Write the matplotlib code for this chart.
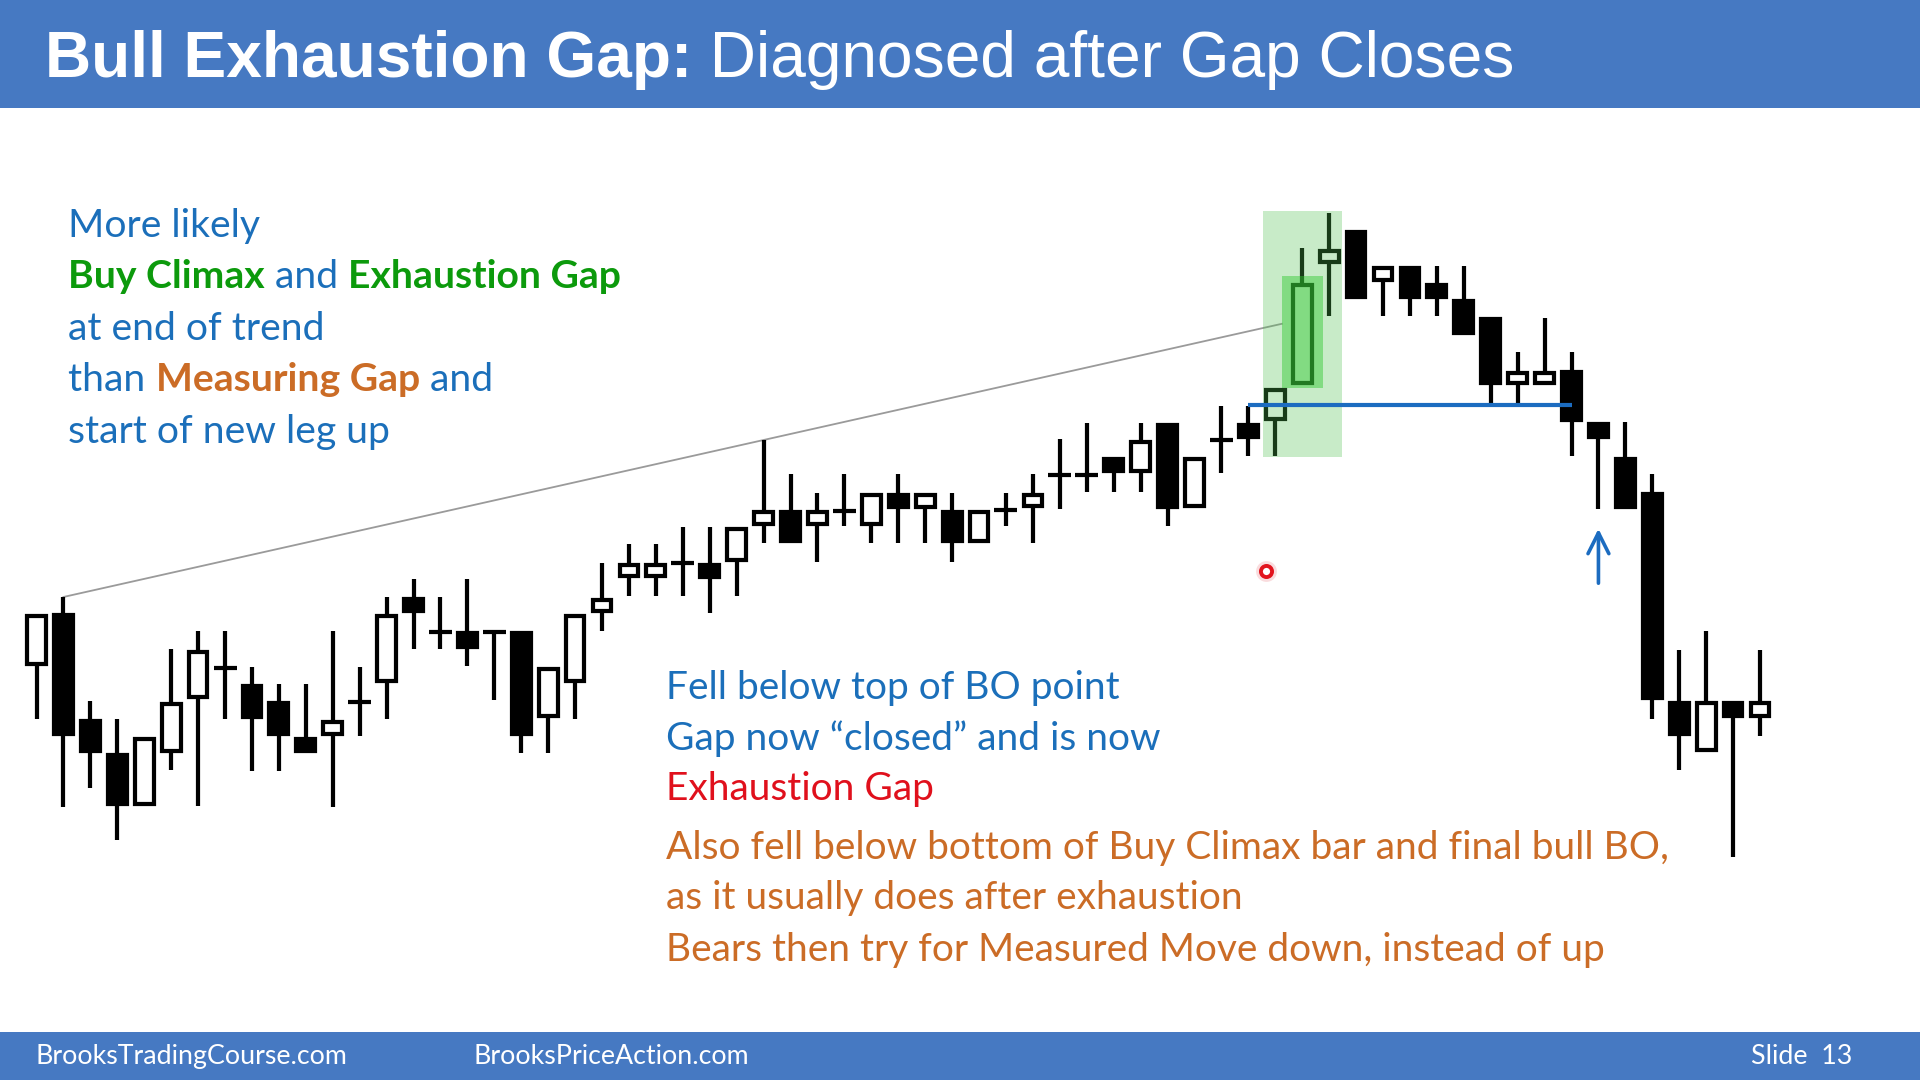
import matplotlib
matplotlib.use('Agg')
import matplotlib.pyplot as plt
from matplotlib.patches import Rectangle
from matplotlib.lines import Line2D
import numpy as np

# ---------------- data (price units) ----------------
opens  = [414, 467, 361, 327, 274, 327, 381, 412, 396, 379, 343, 344, 378, 397, 483, 448,
          449, 448, 449, 362, 397, 467, 502, 502, 517, 517, 518, 554, 570, 554, 569, 554,
          587, 571, 570, 537, 570, 572, 605, 605, 623, 607, 657, 572, 640, 657, 659, 695,
          816, 850, 798, 814, 797, 781, 763, 695, 695, 710, 658, 623, 588, 379, 328, 379, 362]
highs  = [466, 483, 379, 361, 343, 431, 449, 449, 413, 396, 396, 449, 413, 483, 501, 483,
          501, 448, 449, 413, 466, 517, 536, 536, 553, 553, 553, 640, 606, 587, 606, 587,
          606, 587, 587, 570, 587, 606, 641, 657, 623, 657, 657, 623, 674, 674, 692, 832,
          867, 850, 814, 814, 814, 814, 763, 728, 762, 728, 658, 658, 606, 430, 449, 379, 430]
lows   = [361, 273, 292, 240, 274, 310, 274, 361, 309, 309, 327, 273, 344, 361, 431, 431,
          414, 380, 327, 327, 361, 449, 484, 484, 484, 467, 484, 537, 537, 518, 554, 537,
          537, 537, 518, 537, 554, 537, 571, 588, 588, 588, 554, 572, 607, 624, 624, 695,
          764, 781, 764, 764, 764, 745, 676, 676, 695, 624, 571, 571, 361, 310, 328, 223, 344]
closes = [466, 344, 327, 274, 343, 378, 430, 412, 361, 344, 327, 360, 378, 466, 467, 448,
          431, 448, 344, 413, 466, 482, 517, 517, 517, 501, 553, 570, 537, 570, 569, 587,
          571, 587, 537, 570, 570, 587, 605, 605, 607, 640, 571, 623, 640, 641, 692, 797,
          831, 781, 814, 781, 781, 745, 695, 709, 709, 658, 641, 571, 380, 344, 379, 362, 379]

climax_bars = [46, 47, 48]      # highlighted bars (light green)
climax_bar = 47                  # buy climax bar (darker green)
trend_line_bars = [1, 27]        # gray line through these highs
bo_bar, bo_line_end = 45, 57     # top of BO point line
arrow_bar = 58

title_bold = "Bull Exhaustion Gap:"
title_rest = " Diagnosed after Gap Closes"
footer_left = "BrooksTradingCourse.com"
footer_mid = "BrooksPriceAction.com"
footer_right = "Slide  13"

BLUE_T = '#1B6FBA'
GREEN_T = '#0C9A0C'
ORANGE_T = '#CB6C26'
RED_T = '#E0101C'

left_lines = [
    [("More likely", BLUE_T, 'normal')],
    [("Buy Climax", GREEN_T, 'bold'), (" and ", BLUE_T, 'normal'), ("Exhaustion Gap", GREEN_T, 'bold')],
    [("at end of trend", BLUE_T, 'normal')],
    [("than ", BLUE_T, 'normal'), ("Measuring Gap", ORANGE_T, 'bold'), (" and", BLUE_T, 'normal')],
    [("start of new leg up", BLUE_T, 'normal')],
]
bottom_lines = [
    [("Fell below top of BO point", BLUE_T, 'normal')],
    [("Gap now \u201cclosed\u201d and is now", BLUE_T, 'normal')],
    [("Exhaustion Gap", RED_T, 'normal')],
    [("Also fell below bottom of Buy Climax bar and final bull BO,", ORANGE_T, 'normal')],
    [("as it usually does after exhaustion", ORANGE_T, 'normal')],
    [("Bears then try for Measured Move down, instead of up", ORANGE_T, 'normal')],
]

# ---------------- figure ----------------
W, H, DPI = 1920, 1080, 100
fig = plt.figure(figsize=(W / DPI, H / DPI), dpi=DPI)
fig.patch.set_facecolor('white')
ax = fig.add_axes([0, 0, 1, 1])
ax.set_axis_off()
ax.patch.set_visible(False)
X0, DX = 36.5, 26.93
ax.set_xlim(-X0 / DX, (W - X0) / DX)
ax.set_ylim(0, H)

HEADER = '#4679C2'
fig.add_artist(Rectangle((0, 1 - 108 / H), 1, 108 / H, transform=fig.transFigure,
                         facecolor=HEADER, edgecolor='none', zorder=0))
fig.add_artist(Rectangle((0, 0), 1, 48 / H, transform=fig.transFigure,
                         facecolor=HEADER, edgecolor='none', zorder=0))

# candles
LW_PX = 4.2
lw_pt = LW_PX * 72 / DPI
BODY = 0.854
inner_w = BODY - LW_PX / DX
for i, (o, h, l, c) in enumerate(zip(opens, highs, lows, closes)):
    ax.plot([i, i], [l, h], color='black', lw=lw_pt, solid_capstyle='butt', zorder=2)
    if o == c:
        ax.plot([i - BODY / 2, i + BODY / 2], [o, o], color='black', lw=lw_pt,
                solid_capstyle='butt', zorder=3)
    else:
        bot, top = min(o, c), max(o, c)
        ax.add_patch(Rectangle((i - inner_w / 2, bot + LW_PX / 2), inner_w, top - bot - LW_PX,
                               facecolor='white' if c > o else 'black', edgecolor='black',
                               lw=lw_pt, joinstyle='miter', zorder=3))

# gray trend line through two highs, extended to climax highlight
a, b = trend_line_bars
slope = (highs[b] - highs[a]) / (b - a)
x_end = climax_bar - 0.76
ax.plot([a, x_end], [highs[a], highs[b] + slope * (x_end - b)], color='#9A9A9A', lw=1.3, zorder=1)

# green highlights
g_lo = min(lows[i] for i in climax_bars) - 1
g_hi = max(highs[i] for i in climax_bars) + 2
ax.add_patch(Rectangle((climax_bars[0] - 0.47, g_lo), climax_bars[-1] - climax_bars[0] + 0.94,
                       g_hi - g_lo, facecolor=(80 / 255, 191 / 255, 80 / 255), alpha=0.31,
                       edgecolor='none', zorder=5))
cb_lo = min(opens[climax_bar], closes[climax_bar]) - 3
cb_hi = max(opens[climax_bar], closes[climax_bar]) + 7
ax.add_patch(Rectangle((climax_bar - 0.76, cb_lo), 1.52, cb_hi - cb_lo,
                       facecolor=(45 / 255, 200 / 255, 45 / 255), alpha=0.45,
                       edgecolor='none', zorder=5))

# BO point line
ax.plot([bo_bar, bo_line_end], [highs[bo_bar] + 1, highs[bo_bar] + 1], color='#1C6CC0',
        lw=3.0, solid_capstyle='butt', zorder=6)

# arrow
ax.annotate('', xy=(arrow_bar, lows[arrow_bar] - 17), xytext=(arrow_bar, lows[arrow_bar] - 77),
            arrowprops=dict(arrowstyle='->,head_length=0.5,head_width=0.25', color='#1C6CC0',
                            lw=2.6, mutation_scale=30), zorder=6)

# laser pointer dot
fig.add_artist(Line2D([1266 / W], [1 - 571 / H], marker='o', ms=15, mfc='#F6C6C8', mec='none',
                      alpha=0.6, transform=fig.transFigure, zorder=7))
fig.add_artist(Line2D([1266 / W], [1 - 571 / H], marker='o', ms=8, mfc='white', mec='#E2141E',
                      mew=2.8, transform=fig.transFigure, zorder=8))

# ---------------- text ----------------
renderer = fig.canvas.get_renderer()


def advance(s, size, weight, family):
    t1 = fig.text(0, 0, s + '|', fontsize=size, fontweight=weight, family=family)
    t2 = fig.text(0, 0, '|', fontsize=size, fontweight=weight, family=family)
    w = t1.get_window_extent(renderer).width - t2.get_window_extent(renderer).width
    t1.remove()
    t2.remove()
    return w


def line_width(pieces, size, family):
    return sum(advance(s, size, wt, family) for s, _, wt in pieces)


def draw_line(x, y, pieces, size, family):
    cur = x
    for s, col, wt in pieces:
        fig.text(cur / W, 1 - y / H, s, fontsize=size, fontweight=wt, family=family, color=col,
                 va='baseline', ha='left', zorder=10)
        cur += advance(s, size, wt, family)


def fit(pieces, target, family, base=20.0):
    return base * target / line_width(pieces, base, family)


BODY_FONT = 'Lato'
# title
tpieces = [(title_bold, 'white', 'bold'), (title_rest, 'white', 'normal')]
tsize = fit(tpieces, 1466, 'Liberation Sans')
em = tsize * DPI / 72
draw_line(45, 54 + 0.358 * em, tpieces, tsize, 'Liberation Sans')

# left block
lsize = fit(left_lines[1], 553, BODY_FONT)
em = lsize * DPI / 72
for pieces, yc in zip(left_lines, [224, 275.5, 327, 378, 430]):
    draw_line(68.5, yc + 0.33 * em, pieces, lsize, BODY_FONT)

# bottom block
bsize = fit(bottom_lines[3], 1005, BODY_FONT)
em = bsize * DPI / 72
for pieces, yc in zip(bottom_lines, [686, 737, 787, 846, 896, 948]):
    draw_line(666, yc + 0.33 * em, pieces, bsize, BODY_FONT)

# footer
fpieces = [(footer_left, 'white', 'normal')]
fsize = fit(fpieces, 311, BODY_FONT)
em = fsize * DPI / 72
fy = 1054 + 0.36 * em
draw_line(35.5, fy, fpieces, fsize, BODY_FONT)
draw_line(474, fy, [(footer_mid, 'white', 'normal')], fsize, BODY_FONT)
draw_line(1751, fy, [(footer_right, 'white', 'normal')], fsize, BODY_FONT)

fig.savefig('out.png', dpi=DPI, facecolor='white')
